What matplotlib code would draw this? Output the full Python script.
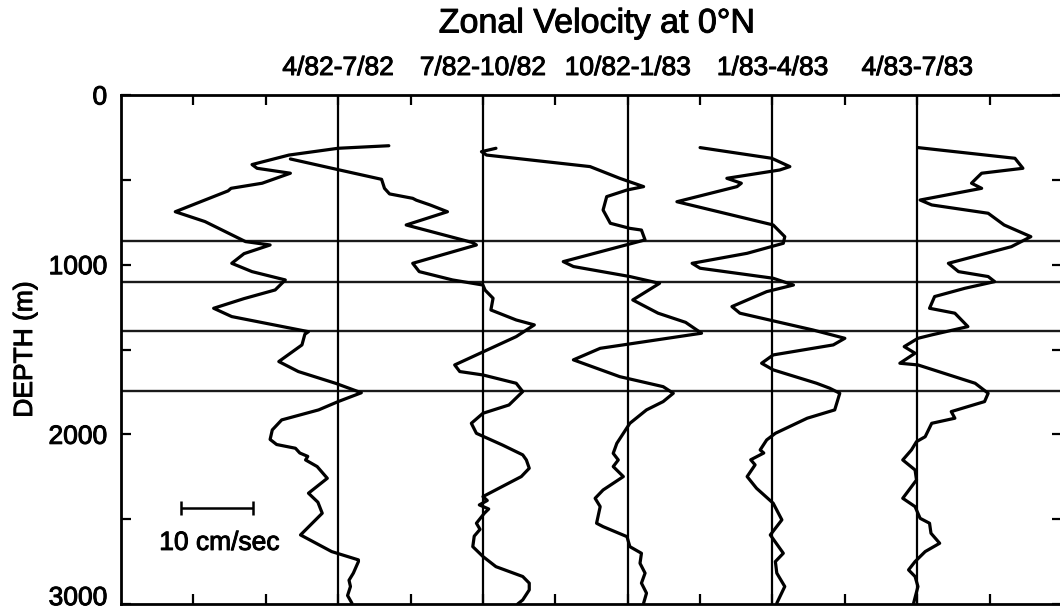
import matplotlib
matplotlib.use("Agg")
import matplotlib.pyplot as plt
import matplotlib.patheffects as pe
from matplotlib.transforms import blended_transform_factory, ScaledTranslation

plt.rcParams['font.family'] = ['Liberation Sans', 'DejaVu Sans']

# ---- data: zonal velocity profiles (cm/s) against depth (m) ----
periods = ["4/82-7/82", "7/82-10/82", "10/82-1/83", "1/83-4/83", "4/83-7/83"]

p1_depth = [299, 314, 354, 410, 432, 461, 520, 550, 565, 688, 746, 864, 884, 935, 992,
            1041, 1090, 1149, 1200, 1257, 1306, 1395, 1410, 1473, 1571, 1630, 1700, 1755,
            1807, 1856, 1915, 1974, 2030, 2060, 2082, 2110, 2130, 2151, 2190, 2259, 2347,
            2400, 2465, 2593, 2691, 2740, 2750, 2818, 2860, 2897, 2950, 2995]
p1_vel = [7.0, 0.0, -6.8, -11.9, -11.2, -6.6, -10.5, -14.8, -15.2, -22.5, -18.4, -12.8,
          -9.4, -13.0, -14.7, -11.9, -7.3, -8.7, -13.0, -17.2, -14.7, -4.1, -4.6, -5.0,
          -8.2, -5.5, -0.3, 3.2, 0.0, -2.7, -7.8, -9.1, -9.4, -8.5, -5.9, -5.3, -4.2,
          -4.5, -2.9, -1.5, -4.1, -2.8, -2.2, -5.2, -0.9, 2.8, 2.8, 2.1, 1.5, 1.7, 1.3, 1.9]

p2_depth = [377, 442, 497, 550, 583, 609, 620, 648, 688, 766, 870, 884, 992, 1041, 1090,
            1120, 1150, 1198, 1267, 1326, 1355, 1424, 1591, 1630, 1650, 1699, 1748, 1827,
            1876, 1935, 1994, 2063, 2121, 2151, 2200, 2249, 2367, 2390, 2416, 2440, 2465,
            2524, 2560, 2600, 2662, 2720, 2780, 2838, 2877, 2917, 2976, 3000]
p2_vel = [-26.6, -19.8, -14.0, -13.6, -12.9, -9.7, -9.2, -7.3, -4.9, -10.6, -1.4, -0.9,
          -9.7, -8.8, -4.2, 0.0, 0.3, 1.4, 1.1, 4.6, 7.1, 4.6, -3.9, -3.2, 0.0, 4.6, 5.5,
          3.6, 0.0, -1.6, -0.9, 2.7, 5.5, 6.0, 6.4, 5.3, 0.0, 0.6, -0.5, 0.8, 0.2, -0.9,
          -0.4, -1.2, -1.4, 0.0, 1.8, 5.5, 6.4, 6.4, 5.5, 4.8]

p3_depth = [314, 334, 354, 422, 491, 540, 560, 599, 678, 756, 786, 796, 854, 982, 1011,
            1070, 1110, 1208, 1286, 1340, 1404, 1493, 1561, 1660, 1719, 1758, 1807, 1856,
            1935, 1994, 2053, 2112, 2151, 2190, 2249, 2328, 2377, 2426, 2524, 2544, 2603,
            2662, 2701, 2760, 2818, 2877, 2936, 2995]
p3_vel = [-18.2, -20.2, -19.5, -5.2, -1.1, 2.2, -0.1, -2.9, -3.4, -2.4, 0.3, 1.9, 2.4,
          -8.9, -7.5, 0.3, 4.4, 0.7, 4.2, 8.0, 10.2, -3.8, -7.5, -1.1, 4.9, 6.3, 4.9, 2.6,
          0.3, -0.6, -1.5, -2.0, -1.3, -2.0, -0.6, -3.4, -4.5, -3.8, -4.3, -3.4, -0.1,
          0.3, 1.9, 1.7, 2.4, 1.9, 2.6, 2.2]

p4_depth = [310, 373, 422, 442, 491, 520, 540, 629, 766, 835, 874, 933, 992, 1021, 1080,
            1120, 1159, 1247, 1286, 1385, 1434, 1473, 1532, 1581, 1620, 1699, 1728, 1758,
            1856, 1905, 1994, 2033, 2092, 2110, 2150, 2180, 2249, 2318, 2406, 2504, 2593,
            2701, 2750, 2818, 2897, 2995]
p4_vel = [-10.0, -0.1, 2.4, 1.0, -6.3, -4.3, -4.9, -13.2, 0.1, 1.7, 1.5, -3.5, -11.1,
          -10.0, 0.1, 2.9, -0.8, -5.6, -4.5, 5.6, 10.0, 8.4, 0.1, -1.5, 0.1, 6.1, 7.9,
          9.3, 8.6, 4.8, 0.4, -0.8, -1.7, -1.2, -3.0, -2.4, -3.5, -2.2, 0.1, 1.3, -0.3,
          1.5, 0.4, 0.6, 1.7, 0.6]

p5_depth = [310, 373, 432, 461, 490, 520, 550, 619, 648, 697, 766, 835, 894, 992, 1041,
            1070, 1100, 1139, 1188, 1257, 1286, 1365, 1414, 1434, 1483, 1522, 1581, 1591,
            1699, 1758, 1807, 1866, 1905, 1935, 2014, 2043, 2092, 2151, 2210, 2269, 2377,
            2426, 2495, 2524, 2583, 2642, 2691, 2750, 2799, 2838, 2897, 2995]
p5_vel = [0.1, 13.5, 14.6, 8.9, 8.2, 7.5, 8.9, 0.4, 2.0, 9.8, 12.0, 15.7, 13.0, 4.3, 5.7,
          9.8, 10.7, 6.6, 2.4, 1.7, 5.2, 7.0, 2.0, 0.1, -1.8, -0.3, -2.4, 0.1, 8.0, 9.8,
          9.3, 4.7, 5.2, 2.0, 1.1, -0.1, -0.8, -2.0, -0.3, -0.1, -2.0, -0.3, 0.4, 1.7,
          1.9, 3.1, 1.1, -0.3, -1.2, -0.3, 0.1, -0.5]

# depths of the horizontal reference lines (m)
ref_depths = [858, 1100, 1393, 1745]

# scale bar length (cm/s)
scale_len = 10

profiles = [(p1_depth, p1_vel), (p2_depth, p2_vel), (p3_depth, p3_vel),
            (p4_depth, p4_vel), (p5_depth, p5_vel)]

# slightly heavier text strokes
heavy = [pe.withStroke(linewidth=0.7, foreground='black')]
FS = 19

# ---- figure ----
W, H = 1060, 609
fig = plt.figure(figsize=(W / 100, H / 100), dpi=100)
ax = fig.add_axes([121 / W, 5 / H, 941 / W, 509 / H])

x_max = 130
ax.set_xlim(0, x_max)
ax.set_ylim(3000, 0)

# each profile is offset 20 cm/s from the previous one
base, step = 30, 20
offsets = [base + i * step for i in range(len(profiles))]

for d in ref_depths:
    ax.axhline(d, color='#1a1a1a', lw=1.7, zorder=1)
for off in offsets:
    ax.axvline(off, color='black', lw=1.6, zorder=2)
for off, (dep, vel) in zip(offsets, profiles):
    ax.plot([off + v for v in vel], dep, color='black', lw=2.3,
            solid_joinstyle='round', solid_capstyle='round', zorder=3)

# period labels above each zero line
trans = blended_transform_factory(ax.transData, fig.transFigure)
for off, lab in zip(offsets, periods):
    ax.text(off, 1 - 68 / H, lab, transform=trans, ha='center', va='center',
            fontsize=FS, path_effects=heavy)

fig.text(597 / W, 1 - 24 / H, "Zonal Velocity at 0\u00b0N", ha='center',
         va='center', fontsize=24.5, path_effects=heavy)

# scale bar
sb_x0, sb_depth = 8.3, 2434
ax.errorbar([sb_x0 + scale_len / 2], [sb_depth], xerr=[scale_len / 2],
            color='black', lw=1.8, capsize=5, capthick=1.8, zorder=4)
ax.text(sb_x0 + scale_len / 2 + 0.3, 2640, f"{scale_len} cm/sec", ha='center',
        va='center', fontsize=FS, path_effects=heavy)

# ticks
ax.set_xticks(range(10, 130, 10))
ax.set_xticklabels([])
ax.set_yticks([0, 1000, 2000, 3000])
ax.set_yticks([500, 1500, 2500], minor=True)
ax.tick_params(axis='both', which='both', direction='in', length=7, width=1.6,
               top=True, right=True, labelsize=FS, pad=10)
for lbl in ax.get_yticklabels():
    lbl.set_path_effects(heavy)
# lift the bottom label so it sits inside the canvas
last = ax.get_yticklabels()[-1]
last.set_transform(last.get_transform() +
                   ScaledTranslation(0, 6 / 72, fig.dpi_scale_trans))

ax.set_ylabel("DEPTH (m)", fontsize=FS, path_effects=heavy)
ax.yaxis.set_label_coords(-(121 - 37) / 941, 0.5)

for s in ax.spines.values():
    s.set_linewidth(2.0)

fig.savefig("out.png", dpi=100)
